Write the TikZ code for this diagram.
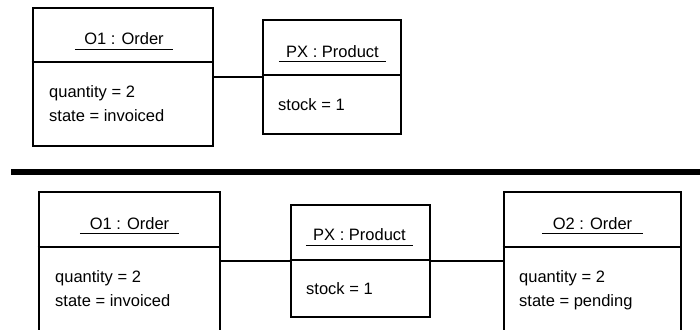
\documentclass[tikz,border=0pt]{standalone}
\usepackage{fontspec}
\setmainfont{Liberation Sans}
\begin{document}
\begin{tikzpicture}[x=1pt,y=-1pt,
  objbox/.style={draw, line width=2.8pt, rectangle, inner sep=0pt},
  divider/.style={line width=2.8pt},
  link/.style={line width=2pt},
  title/.style={anchor=base, inner xsep=0pt, inner ysep=4.5pt, text depth=0pt,
    font=\fontsize{16.5}{18}\selectfont},
  uline/.style={line width=1pt},
  attr/.style={anchor=base west, inner sep=0pt, font=\fontsize{16.5}{18}\selectfont}]
\useasboundingbox (0,0) rectangle (700,329);
\clip (0,0) rectangle (700,329);

% ---- upper snapshot ----
\node[objbox, minimum width=180pt, minimum height=138pt] (o1a) at (123,77) {};
\node[objbox, minimum width=138pt, minimum height=114pt] (pxa) at (332,77) {};
\draw[divider] (o1a.west |- 0,62) -- (o1a.east |- 0,62);
\draw[divider] (pxa.west |- 0,75) -- (pxa.east |- 0,75);

\node[title, minimum width=98pt] (o1at) at (124,45) {O1 : Order};
\draw[uline] (o1at.south west) -- (o1at.south east);
\node[title, minimum width=107pt] (pxat) at (332.5,57) {PX : Product};
\draw[uline] (pxat.south west) -- (pxat.south east);

\node[attr] (o1aq) at (49,97) {quantity = 2};
\node[attr] (o1as) at (49,121) {state = invoiced};
\node[attr] (pxas) at (278,110) {stock = 1};

\draw[link] (o1a.east) -- (pxa.west);

% ---- separator ----
\draw[line width=6pt] (11,172) -- (700,172);

% ---- lower snapshot ----
\node[objbox, minimum width=181pt, minimum height=168pt] (o1b) at (129.5,276) {};
\node[objbox, minimum width=139pt, minimum height=112pt] (pxb) at (360.5,261) {};
\node[objbox, minimum width=177pt, minimum height=168pt] (o2b) at (592.5,276) {};
\draw[divider] (o1b.west |- 0,247) -- (o1b.east |- 0,247);
\draw[divider] (pxb.west |- 0,260) -- (pxb.east |- 0,260);
\draw[divider] (o2b.west |- 0,247) -- (o2b.east |- 0,247);

\node[title, minimum width=99pt] (o1bt) at (129.5,229) {O1 : Order};
\draw[uline] (o1bt.south west) -- (o1bt.south east);
\node[title, minimum width=107pt] (pxbt) at (359.5,240.5) {PX : Product};
\draw[uline] (pxbt.south west) -- (pxbt.south east);
\node[title, minimum width=101pt] (o2bt) at (592.5,229) {O2 : Order};
\draw[uline] (o2bt.south west) -- (o2bt.south east);

\node[attr] (o1bq) at (55,282) {quantity = 2};
\node[attr] (o1bs) at (55,306) {state = invoiced};
\node[attr] (pxbs) at (306,294) {stock = 1};
\node[attr] (o2bq) at (519,282) {quantity = 2};
\node[attr] (o2bs) at (519,306) {state = pending};

\draw[link] (o1b.east |- pxb.west) -- (pxb.west);
\draw[link] (pxb.east) -- (o2b.west |- pxb.east);
\end{tikzpicture}
\end{document}
